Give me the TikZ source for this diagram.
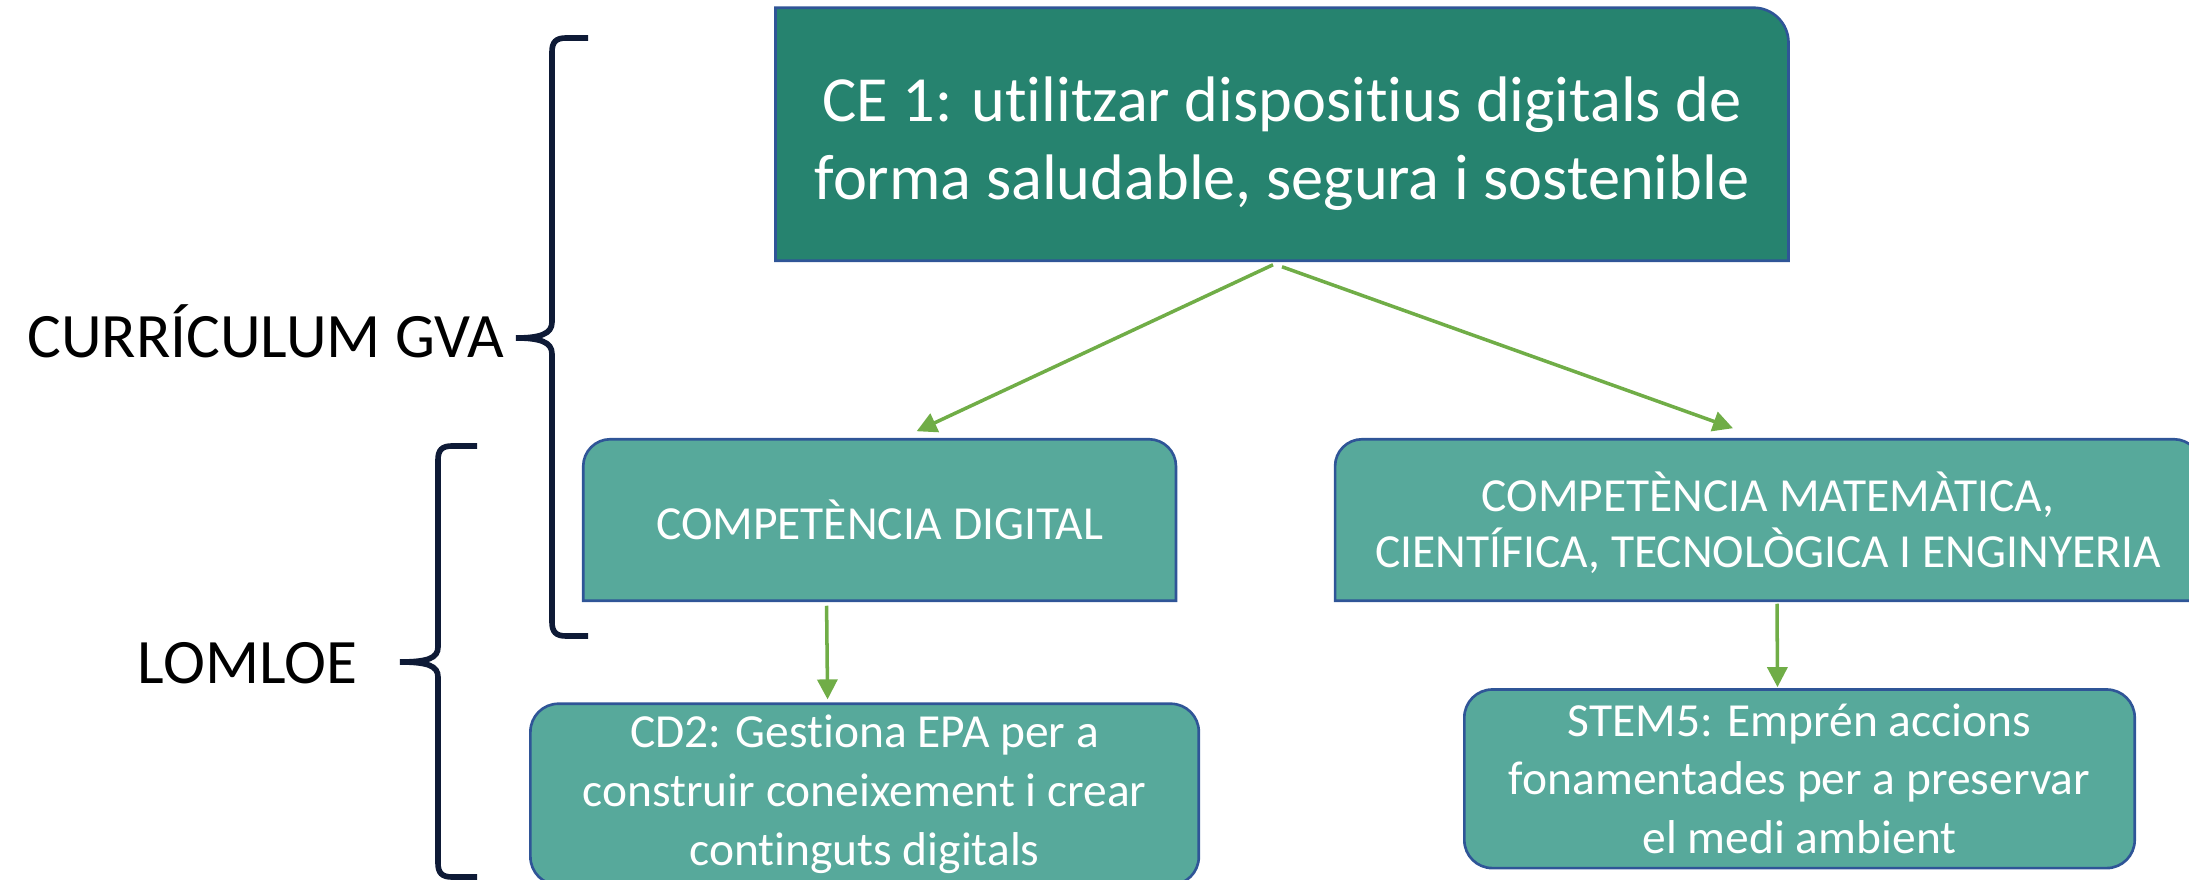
\documentclass[tikz,border=0pt]{standalone}
\usepackage{fontspec}
\setmainfont{Carlito}[Ligatures=NoCommon]
\usetikzlibrary{positioning,arrows.meta,backgrounds}

\definecolor{cefill}{RGB}{38,131,111}
\definecolor{boxfill}{RGB}{87,169,155}
\definecolor{boxedge}{RGB}{47,85,151}
\definecolor{arrowgreen}{RGB}{112,173,71}
\definecolor{bracenavy}{RGB}{14,26,54}

\begin{document}
\begin{tikzpicture}[x = 0.01cm, y = 0.01cm,
    every node/.style = { align = center, inner sep = 0pt },
    boxtext/.style = { text = white, font = \fontsize{13.5}{16.7}\selectfont },
    boxline/.style = { draw = boxedge, line width = 0.75pt },
    smallbox/.style = { boxline, fill = boxfill, rounded corners = 0.28cm },
    sidetext/.style = { text = black, font = \fontsize{18}{21}\selectfont },
    arr/.style = { draw = arrowgreen, line width = 1pt, -{Triangle[length = 2mm, width = 2mm]} },
    bracket/.style = { draw = bracenavy, line width = 1.6pt }]
    \useasboundingbox (0,0) rectangle (2189,879);

    % boxes
    \node (ce) [boxtext, font = \fontsize{18.3}{22.3}\selectfont, minimum width = 10.11cm, minimum height = 2.515cm] at (1282,744.75)
      {\rule{0pt}{18pt}CE 1: utilitzar dispositius digitals de\\forma saludable, segura i sostenible};
    \node (cdig) [boxtext, minimum width = 5.91cm, minimum height = 1.6cm] at (879.6,359) {COMPETÈNCIA DIGITAL};
    \node (cmat) [boxtext, font = \fontsize{13.5}{15.9}\selectfont, minimum width = 8.64cm, minimum height = 1.6cm] at (1768,359)
      {\rule{0pt}{13pt}COMPETÈNCIA MATEMÀTICA,\\CIENTÍFICA, TECNOLÒGICA I ENGINYERIA};
    \node (cd2) [boxtext, smallbox, minimum width = 6.68cm, minimum height = 1.81cm] at (864.6,84.7)
      {CD2: Gestiona EPA per a\\construir coneixement i crear\\continguts digitals};
    \node (stem5) [boxtext, smallbox, minimum width = 6.70cm, minimum height = 1.785cm] at (1799.5,100.2)
      {STEM5: Emprén accions\\fonamentades per a preservar\\el medi ambient};

    \begin{scope}[on background layer]
      \filldraw [boxline, fill = cefill] (ce.south west) -- (ce.north west) -- ([xshift = -0.35cm]ce.north east)
        arc [start angle = 90, end angle = 0, radius = 0.35cm] -- (ce.south east) -- cycle;
      \filldraw [boxline, fill = boxfill] (cdig.south west) -- ([yshift = -0.27cm]cdig.north west)
        arc [start angle = 180, end angle = 90, radius = 0.27cm] -- ([xshift = -0.27cm]cdig.north east)
        arc [start angle = 90, end angle = 0, radius = 0.27cm] -- (cdig.south east) -- cycle;
      \filldraw [boxline, fill = boxfill] (cmat.south west) -- ([yshift = -0.27cm]cmat.north west)
        arc [start angle = 180, end angle = 90, radius = 0.27cm] -- ([xshift = -0.27cm]cmat.north east)
        arc [start angle = 90, end angle = 0, radius = 0.27cm] -- (cmat.south east) -- cycle;
    \end{scope}

    % arrows
    \draw [arr] ([xshift = -0.09cm, yshift = -0.04cm]ce.south) -- ([xshift = 0.37cm, yshift = 0.08cm]cdig.north);
    \draw [arr] ([yshift = -0.06cm]ce.south) -- ([xshift = -0.35cm, yshift = 0.11cm]cmat.north);
    \draw [arr] ([xshift = -0.53cm, yshift = -0.05cm]cdig.south) -- ([xshift = -0.37cm, yshift = 0.03cm]cd2.north);
    \draw [arr] ([xshift = 0.09cm, yshift = -0.03cm]cmat.south) -- ([xshift = -0.22cm, yshift = 0.01cm]stem5.north);

    % braces
    \draw [bracket] (588,841) -- (566,841) .. controls (556,841) and (552,837) .. (552,827) -- (552,557)
      .. controls (552,545) and (540,541) .. (516,541) coordinate (gvatip)
      .. controls (540,541) and (552,537) .. (552,525) -- (552,257)
      .. controls (552,247) and (556,243) .. (566,243) -- (588,243);
    \draw [bracket] (477,433) -- (452,433) .. controls (442,433) and (438,429) .. (438,419) -- (438,232)
      .. controls (438,221) and (428,217) .. (400,217) coordinate (lomtip)
      .. controls (428,217) and (438,213) .. (438,202) -- (438,16)
      .. controls (438,6) and (442,2) .. (452,2) -- (477,2);

    \node (gva) [sidetext, base left = 0.11cm of gvatip, yshift = -0.197cm] {CURRÍCULUM GVA};
    \node (lomloe) [sidetext, base left = 0.42cm of lomtip, yshift = -0.21cm] {LOMLOE};
\end{tikzpicture}
\end{document}
